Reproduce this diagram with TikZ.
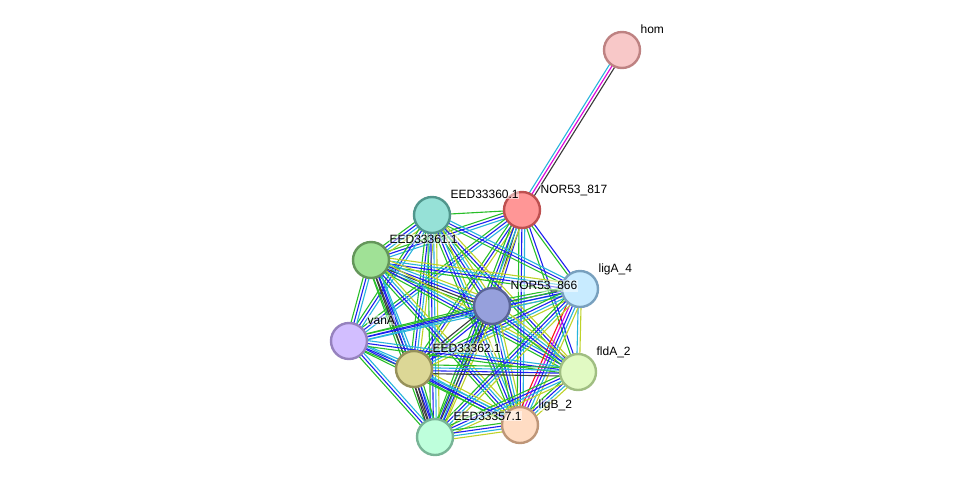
\documentclass[tikz,border=0pt]{standalone}
\usepackage{fontspec}
\setmainfont{Liberation Sans}
\usetikzlibrary{calc, backgrounds, positioning}
\definecolor{nbgreen}{RGB}{40, 190, 40}
\definecolor{cooblue}{RGB}{30, 30, 240}
\definecolor{dbcyan}{RGB}{40, 180, 220}
\definecolor{txtyellow}{RGB}{190, 210, 40}
\definecolor{coexgray}{RGB}{60, 60, 60}
\definecolor{expmagenta}{RGB}{220, 0, 220}
\definecolor{fusred}{RGB}{250, 20, 20}
\tikzset{
  protnode/.style={circle, draw, line width=2.4pt, minimum size=36pt, inner sep=0pt},
  tagnode/.style={anchor=base west, font=\fontsize{12}{14}\selectfont, inner sep=0.4pt,
    fill=white, fill opacity=0.5, text opacity=1},
  link/.style={line width=1.1pt},
}
% one line per evidence channel, side by side
\newcommand{\linkset}[3]{%
  \foreach \c [count=\n] in {#3} {\xdef\nlinks{\n}}%
  \foreach \c [count=\i] in {#3} {%
    \pgfmathsetmacro{\off}{(\i-(\nlinks+1)/2)*2.9}%
    \draw[link, color=\c] ($(#1.center)!\off pt!90:(#2.center)$) -- ($(#2.center)!\off pt!-90:(#1.center)$);
  }%
}

\begin{document}
\begin{tikzpicture}[x=1pt, y=-1pt]
  \useasboundingbox (0,0) rectangle (975,483);

  % proteins
  \node[protnode, fill={rgb,255:red,248;green,200;blue,200}, draw={rgb,255:red,190;green,130;blue,130}] (hom) at (622,50) {};
  \node[protnode, fill={rgb,255:red,255;green,150;blue,150}, draw={rgb,255:red,190;green,80;blue,80}] (n817) at (522,210) {};
  \node[protnode, fill={rgb,255:red,150;green,225;blue,215}, draw={rgb,255:red,80;green,150;blue,140}] (e360) at (432,215) {};
  \node[protnode, fill={rgb,255:red,160;green,225;blue,150}, draw={rgb,255:red,100;green,150;blue,90}] (e361) at (371,260) {};
  \node[protnode, fill={rgb,255:red,200;green,235;blue,255}, draw={rgb,255:red,120;green,160;blue,190}] (liga) at (580,289) {};
  \node[protnode, fill={rgb,255:red,150;green,160;blue,220}, draw={rgb,255:red,90;green,100;blue,150}] (n866) at (492,306) {};
  \node[protnode, fill={rgb,255:red,210;green,190;blue,255}, draw={rgb,255:red,150;green,130;blue,190}] (vana) at (349,341) {};
  \node[protnode, fill={rgb,255:red,220;green,215;blue,150}, draw={rgb,255:red,150;green,145;blue,90}] (e362) at (414,369) {};
  \node[protnode, fill={rgb,255:red,225;green,250;blue,195}, draw={rgb,255:red,160;green,190;blue,130}] (flda) at (578,372) {};
  \node[protnode, fill={rgb,255:red,255;green,220;blue,195}, draw={rgb,255:red,190;green,150;blue,120}] (ligb) at (520,425) {};
  \node[protnode, fill={rgb,255:red,190;green,255;blue,220}, draw={rgb,255:red,120;green,180;blue,150}] (e357) at (435,437) {};

  % names
  \node[tagnode] (thom) at ($(hom)+(18,-17)$) {hom};
  \node[tagnode] (t817) at ($(n817)+(18,-17)$) {NOR53\_817};
  \node[tagnode] (t360) at ($(e360)+(18,-17)$) {EED33360.1};
  \node[tagnode] (t361) at ($(e361)+(18,-17)$) {EED33361.1};
  \node[tagnode] (tliga) at ($(liga)+(18,-17)$) {ligA\_4};
  \node[tagnode] (t866) at ($(n866)+(18,-17)$) {NOR53\_866};
  \node[tagnode] (tvana) at ($(vana)+(18,-17)$) {vanA};
  \node[tagnode] (t362) at ($(e362)+(18,-17)$) {EED33362.1};
  \node[tagnode] (tflda) at ($(flda)+(18,-17)$) {fldA\_2};
  \node[tagnode] (tligb) at ($(ligb)+(18,-17)$) {ligB\_2};
  \node[tagnode] (t357) at ($(e357)+(18,-17)$) {EED33357.1};

  \begin{scope}[on background layer]
    \linkset{hom}{n817}{dbcyan,expmagenta,coexgray}
    \linkset{n817}{e360}{nbgreen}
    \linkset{n817}{e361}{nbgreen,cooblue,dbcyan}
    \linkset{n817}{liga}{nbgreen,cooblue}
    \linkset{n817}{n866}{nbgreen,coexgray,cooblue}
    \linkset{n817}{vana}{nbgreen,cooblue,dbcyan}
    \linkset{n817}{e362}{nbgreen,cooblue,txtyellow}
    \linkset{n817}{flda}{nbgreen,cooblue}
    \linkset{n817}{ligb}{nbgreen,cooblue,dbcyan}
    \linkset{n817}{e357}{nbgreen,cooblue,dbcyan,txtyellow}
    \linkset{e360}{e361}{nbgreen,cooblue,dbcyan,txtyellow}
    \linkset{e360}{liga}{nbgreen,cooblue,dbcyan}
    \linkset{e360}{n866}{nbgreen,cooblue,dbcyan,txtyellow}
    \linkset{e360}{vana}{nbgreen,cooblue,dbcyan}
    \linkset{e360}{e362}{nbgreen,cooblue,dbcyan,txtyellow}
    \linkset{e360}{flda}{nbgreen,cooblue,txtyellow}
    \linkset{e360}{ligb}{nbgreen,cooblue,dbcyan,txtyellow}
    \linkset{e360}{e357}{nbgreen,cooblue,dbcyan,txtyellow}
    \linkset{e361}{liga}{nbgreen,cooblue,dbcyan,txtyellow}
    \linkset{e361}{n866}{nbgreen,coexgray,cooblue,dbcyan,txtyellow}
    \linkset{e361}{vana}{nbgreen,cooblue,dbcyan}
    \linkset{e361}{e362}{nbgreen,coexgray,cooblue,dbcyan}
    \linkset{e361}{flda}{nbgreen,cooblue,dbcyan,txtyellow}
    \linkset{e361}{ligb}{nbgreen,cooblue,dbcyan,txtyellow}
    \linkset{e361}{e357}{nbgreen,coexgray,cooblue,dbcyan}
    \linkset{liga}{n866}{nbgreen,cooblue,dbcyan,txtyellow}
    \linkset{liga}{vana}{nbgreen,cooblue,dbcyan}
    \linkset{liga}{e362}{nbgreen,cooblue,dbcyan,txtyellow}
    \linkset{liga}{flda}{dbcyan,txtyellow}
    \linkset{liga}{ligb}{fusred,expmagenta,cooblue,dbcyan,txtyellow}
    \linkset{liga}{e357}{nbgreen,cooblue,dbcyan,txtyellow}
    \linkset{n866}{vana}{nbgreen,cooblue,dbcyan}
    \linkset{n866}{e362}{coexgray,nbgreen,cooblue}
    \linkset{n866}{flda}{nbgreen,cooblue,dbcyan,txtyellow}
    \linkset{n866}{ligb}{nbgreen,cooblue,dbcyan,txtyellow}
    \linkset{n866}{e357}{nbgreen,coexgray,cooblue,txtyellow}
    \linkset{vana}{e362}{nbgreen,cooblue,dbcyan}
    \linkset{vana}{flda}{nbgreen,cooblue,dbcyan}
    \linkset{vana}{ligb}{nbgreen,cooblue,dbcyan}
    \linkset{vana}{e357}{nbgreen,cooblue,dbcyan}
    \linkset{e362}{flda}{coexgray,cooblue,dbcyan,nbgreen}
    \linkset{e362}{ligb}{nbgreen,cooblue,dbcyan,txtyellow}
    \linkset{e362}{e357}{coexgray,coexgray,cooblue,nbgreen}
    \linkset{flda}{ligb}{nbgreen,cooblue,dbcyan,txtyellow}
    \linkset{flda}{e357}{nbgreen,cooblue,dbcyan,txtyellow}
    \linkset{ligb}{e357}{nbgreen,cooblue,dbcyan,txtyellow}
  \end{scope}
\end{tikzpicture}
\end{document}
